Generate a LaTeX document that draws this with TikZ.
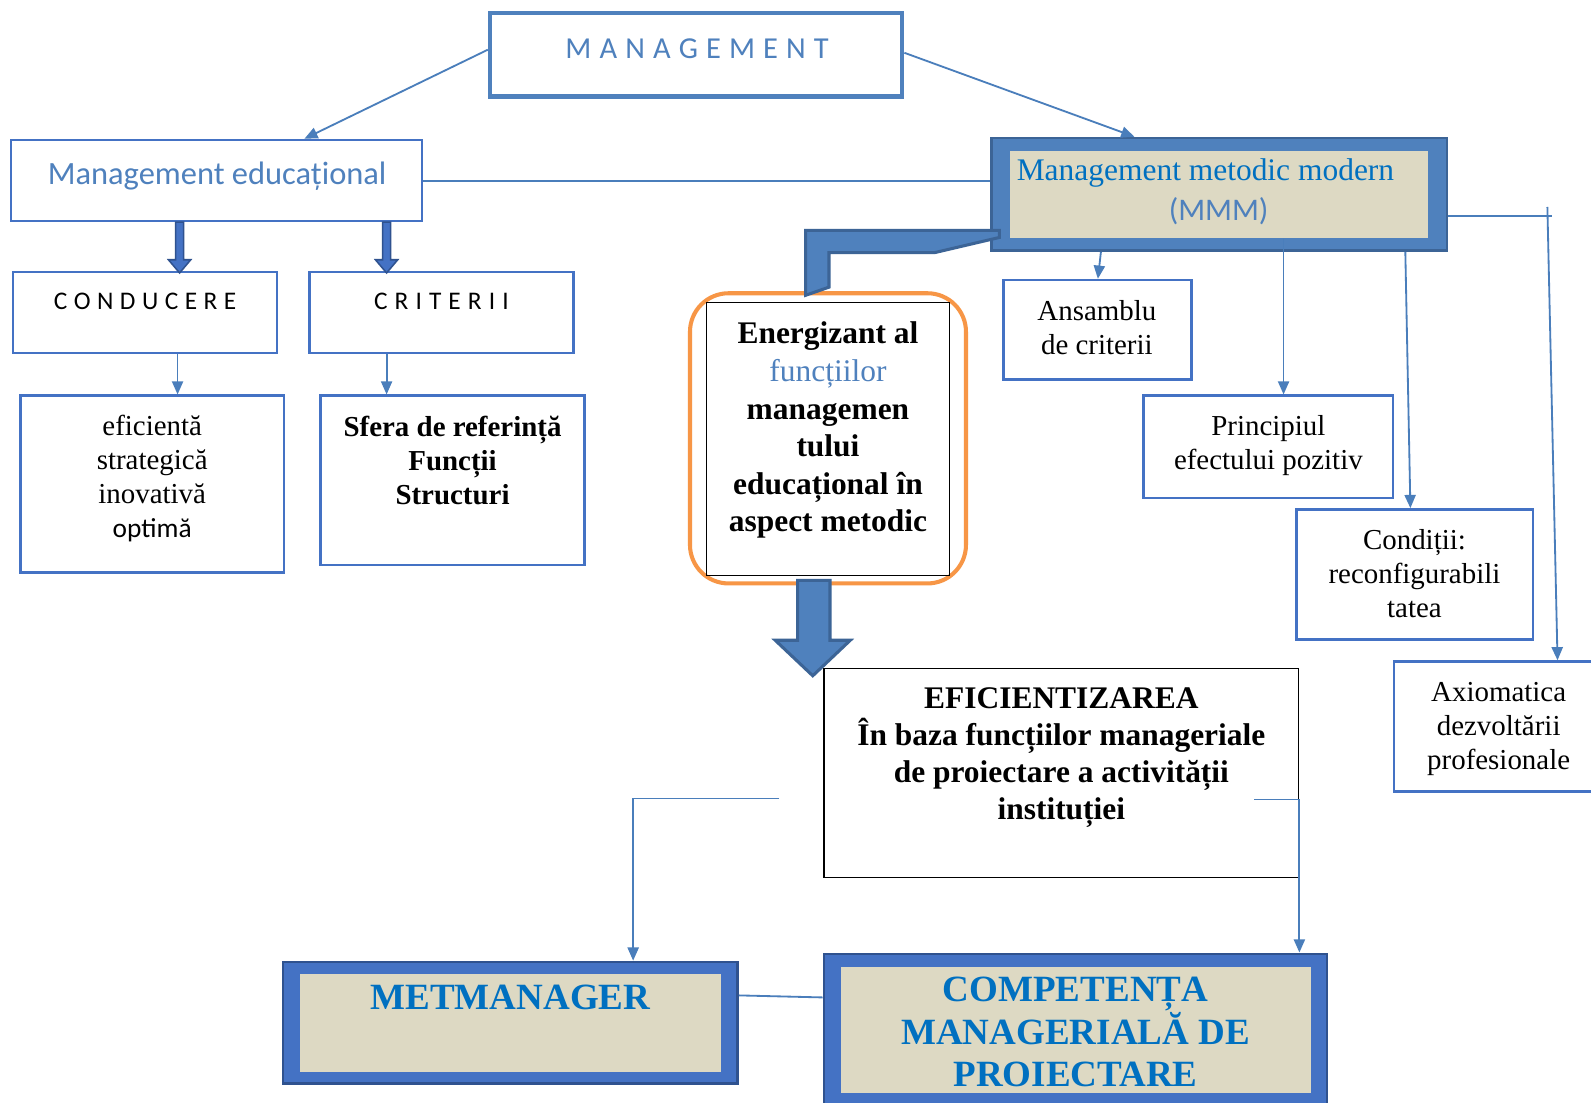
\documentclass[tikz,border=0pt]{standalone}
\usepackage{fontspec}
\setmainfont{Liberation Serif}
\newfontfamily\calib{Carlito}
\usetikzlibrary{arrows.meta,fit,calc}
\definecolor{bblue}{HTML}{4472C4}
\definecolor{sblue}{HTML}{4F81BD}
\definecolor{dblue}{HTML}{2F528F}
\definecolor{dsblue}{HTML}{3C6496}
\definecolor{tblue}{HTML}{0070C0}
\definecolor{beige}{HTML}{DDD9C3}
\definecolor{orng}{HTML}{F79646}
\definecolor{lblue}{HTML}{4A7EBB}
\newcommand\fsz[2]{\fontsize{#1}{#2}\selectfont}
\begin{document}
\begin{tikzpicture}[x=1pt,y=-1pt,
  bx/.style={draw=bblue,line width=2.5pt,inner sep=0pt},
  conn/.style={draw=lblue,line width=1.8pt,-{Triangle[length=13pt,width=11pt]}},
  plainln/.style={draw=lblue,line width=1.8pt},
  txt/.style={align=center,inner sep=0pt},
  sarrow/.style={fill=bblue,draw=dblue,line width=1.5pt,line join=miter},
  barrow/.style={fill=sblue,draw=dsblue,line width=3pt,line join=miter},
  band/.style={inner sep=0pt,line width=2.5pt},
  inbox/.style={fill=beige,inner sep=0pt},
  reg/.style={txt,font=\fsz{28.5}{33.5}}]
\clip (0,0) rectangle (1568,1087);
\fill[white] (0,0) rectangle (1568,1087);
% boxes
\node[bx,draw=sblue,line width=4.5pt,fit={(483,13) (889,95)}] (mgmt) {};
\node[bx,fit={(11,138) (416,218)}] (edu) {};
\node[bx,fit={(13,268) (273,348)}] (cond) {};
\node[bx,fit={(305,268) (565,348)}] (crit) {};
\node[bx,fit={(20,390) (280,564)}] (efic) {};
\node[bx,fit={(316,390) (576,557)}] (sfera) {};
\node[bx,fit={(989,276) (1174,374)}] (ans) {};
\node[bx,fit={(1127,390) (1373,491)}] (princ) {};
\node[bx,fit={(1278,502) (1511,630)}] (condi) {};
\node[bx,fit={(1374,652) (1600,780)}] (axiom) {};
\node[draw=orng,line width=4pt,rounded corners=38pt,inner sep=0pt,fit={(680,289) (952,575)}] (energO) {};
\node[draw=black,line width=1.2pt,inner sep=0pt,fit={(696,298) (936,567)}] (energ) {};
\node[draw=black,line width=1.2pt,inner sep=0pt,fit={(812,659) (1280,865)}] (eff) {};
\node[band,draw=dsblue,fill=sblue,fit={(977,136) (1426,247)}] (mmm) {};
\node[inbox,fit={(995,149) (1407,235)}] (mmmIn) {};
\node[band,draw=dblue,fill=bblue,fit={(279,948) (727,1068)}] (met) {};
\node[inbox,fit={(296,960) (711,1056)}] (metIn) {};
\node[band,draw=dblue,fill=bblue,fit={(812,940) (1308,1110)}] (comp) {};
\node[inbox,fit={(829,953) (1292,1077)}] (compIn) {};
% connectors
\draw[conn] ([yshift=5pt]mgmt.west) -- (edu.north -| 300,0);
\draw[conn] ([yshift=2pt]mgmt.east) -- (mmm.north -| 1118,0);
\draw[plainln] (edu.east) -- (edu.east -| mmm.west);
\draw[sarrow] (173,219) -- (181,219) -- (181,256) -- (188,256) -- (177,269) -- (166,256) -- (173,256) -- cycle;
\draw[sarrow] (377,219) -- (385,219) -- (385,256) -- (392,256) -- (381,269) -- (370,256) -- (377,256) -- cycle;
\draw[conn] (cond.south -| 175,0) -- (efic.north -| 175,0);
\draw[conn] (crit.south -| 381,0) -- (sfera.north -| 381,0);
\draw[conn] (mmm.south -| 1085,0) -- (ans.north -| 1082,0);
\draw[conn] (mmmIn.south -| 1265,0) -- (princ.north -| 1265,0);
\draw[conn] (mmm.south -| 1385,0) -- (condi.north -| 1390,0);
\draw[plainln] (mmm.east |- 0,213) -- (1530,213);
\coordinate (axTop) at (1525,204);
\draw[conn] (axTop) -- (axiom.north -| 1535,0);
\draw[barrow] (794,227) -- (985,227) -- (985,234) -- (921,249) -- (817,249) -- (817,283) -- (794,291) -- cycle;
\draw[barrow] (786,572) -- (818,572) -- (818,631) -- (838,631) -- (801,666) -- (764,631) -- (786,631) -- cycle;
\coordinate (effL) at (768,787);
\draw[conn] (effL) -- (624,787) -- (met.north -| 624,0);
\coordinate (effR) at (1236,788);
\draw[conn] (effR) -- (effR -| eff.east) -- (comp.north -| eff.east);
\draw[plainln] (met.east |- 0,981) -- (comp.west |- 0,983);
% texts
\node[txt,font=\calib\fsz{30}{36},text=sblue,anchor=base] (mgmtT) at (687,58) {M\kern8pt A\kern8pt N\kern8pt A\kern8pt G\kern8pt E\kern8pt M\kern8pt E\kern8pt N\kern8pt T};
\node[txt,font=\calib\fsz{32}{38},text=sblue,anchor=base] (eduT) at (214,182) {Management educațional};
\node[txt,font=\calib\fsz{25}{30},anchor=base] (condT) at (143,305) {C\kern6.4pt O\kern6.4pt N\kern6.4pt D\kern6.4pt U\kern6.4pt C\kern6.4pt E\kern6.4pt R\kern6.4pt E};
\node[txt,font=\calib\fsz{25}{30},anchor=base] (critT) at (435,305) {C\kern7pt R\kern7pt I\kern7pt T\kern7pt E\kern7pt R\kern7pt I\kern7pt I};
\node[reg] (eficT) at (150,472) {eficientă\\strategică\\inovativă\\{\calib\fsz{27}{33.5}optimă}};
\node[reg,font=\bfseries\fsz{28.5}{33.5}] (sferaT) at (446,454) {Sfera de referință\\Funcții\\Structuri};
\node[txt,font=\bfseries\fsz{31}{37}] (energT) at (816,424) {Energizant al\\{\mdseries\color{sblue}funcțiilor}\\managemen\\tului\\educațional în\\aspect metodic};
\node[txt,font=\fsz{31}{38},text=tblue,anchor=base] (mmmT1) at (1188,178) {Management metodic modern};
\node[txt,font=\calib\fsz{31}{38},text=sblue,anchor=base] (mmmT2) at (1201,217) {(MMM)};
\node[reg] (ansT) at (1081,323) {Ansamblu\\de criterii};
\node[reg] (princT) at (1250,439) {Principiul\\efectului pozitiv};
\node[reg] (condiT) at (1394,565) {Condiții:\\reconfigurabili\\tatea};
\node[reg] (axiomT) at (1477,718) {Axiomatica\\dezvoltării\\profesionale};
\node[txt,font=\bfseries\fsz{31}{36.5}] (effT) at (1046,747) {EFICIENTIZAREA\\În baza funcțiilor manageriale\\de proiectare a activității\\instituției};
\node[txt,font=\bfseries\fsz{36.5}{42},text=tblue,anchor=base] (metT) at (503,995) {METMANAGER};
\node[txt,font=\bfseries\fsz{36.5}{42},text=tblue] (compT) at (1060,1017) {COMPETENȚA\\MANAGERIALĂ DE\\PROIECTARE};
\end{tikzpicture}
\end{document}
